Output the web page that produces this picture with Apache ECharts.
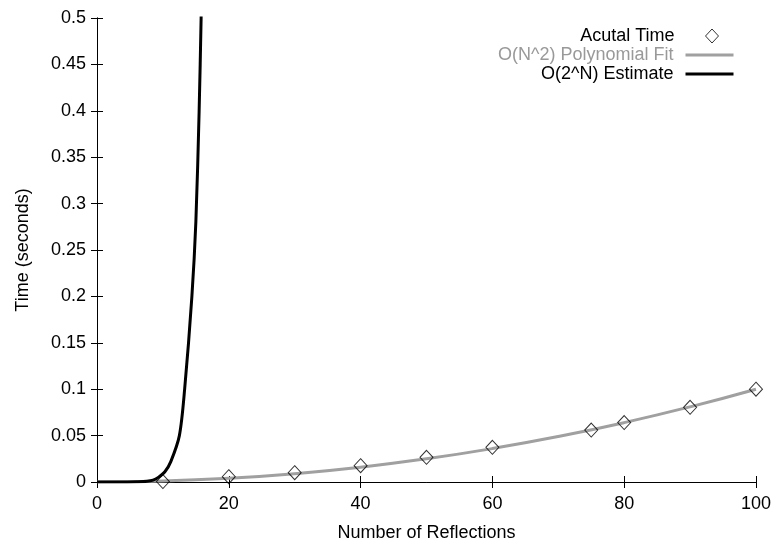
<!DOCTYPE html>
<html>
<head>
<meta charset="utf-8">
<script src="https://cdn.jsdelivr.net/npm/echarts@6/dist/echarts.min.js"></script>
<style>html,body{margin:0;padding:0;background:#fff}#c{width:774px;height:547px}</style>
</head>
<body>
<div id="c"></div>
<script>
// Measured data (Actual Time)
var actualN = [10, 20, 30, 40, 50, 60, 75, 80, 90, 100];
var actualT = [0.0005, 0.0057, 0.010, 0.0176, 0.0266, 0.0374, 0.056, 0.064, 0.0805, 0.100];
// O(N^2) polynomial fit
var fitN = [0, 10, 20, 30, 40, 50, 60, 70, 80, 90, 100];
var fitT = [0, 0.001, 0.004, 0.009, 0.016, 0.025, 0.036, 0.049, 0.064, 0.081, 0.100];
// O(2^N) estimate
var expN = [0, 4, 6, 7.6, 8.5, 9.3, 10.3, 11.2, 12.5, 13.3, 14.4, 15, 15.5, 15.8, 16];
var expT = [0, 0.0001, 0.0003, 0.0008, 0.002, 0.005, 0.011, 0.022, 0.05, 0.1, 0.2, 0.28, 0.4, 0.5, 0.58];
// tick labels
var yTicks = ['0', '0.05', '0.1', '0.15', '0.2', '0.25', '0.3', '0.35', '0.4', '0.45', '0.5'];
var xTicks = ['0', '20', '40', '60', '80', '100'];
var seriesNames = ['Acutal Time', 'O(N^2) Polynomial Fit', 'O(2^N) Estimate'];

function pairs(a, b) { return a.map(function (v, i) { return [v, b[i]]; }); }

var font = 'Liberation Sans, Arial, sans-serif';
var FS = 18;
var chart = echarts.init(document.getElementById('c'));
chart.setOption({
  animation: false,
  backgroundColor: '#fff',
  grid: { left: 97, right: 18, top: 18, bottom: 65 },
  legend: [{
    right: 50, top: 22, orient: 'vertical', align: 'right',
    itemWidth: 13, itemHeight: 14, itemGap: 1,
    textStyle: { fontFamily: font, fontSize: FS, lineHeight: 18, color: '#000', padding: [0, 26, 0, 0] },
    data: [
      { name: seriesNames[0], icon: 'diamond', itemStyle: { color: '#fff', borderColor: '#000', borderWidth: 1 } }
    ]
  }, {
    right: 34, top: 41, orient: 'vertical', align: 'right',
    itemWidth: 48, itemHeight: 14, itemGap: 1,
    textStyle: { fontFamily: font, fontSize: FS, lineHeight: 18, color: '#000', padding: [0, 7, 0, 0] },
    data: [
      { name: seriesNames[1], textStyle: { color: '#999' }, itemStyle: { opacity: 0 }, lineStyle: { width: 3, color: '#a0a0a0' } },
      { name: seriesNames[2], itemStyle: { opacity: 0 }, lineStyle: { width: 3, color: '#000' } }
    ]
  }],
  xAxis: [{
    type: 'value', min: 0, max: 100, interval: 20,
    name: 'Number of Reflections', nameLocation: 'middle', nameGap: 42,
    nameTextStyle: { fontFamily: font, fontSize: FS, color: '#000' },
    axisLine: { lineStyle: { color: '#000', width: 1 } },
    axisTick: { inside: true, length: 6, lineStyle: { color: '#000' } },
    axisLabel: { fontFamily: font, fontSize: FS, color: '#000', margin: 13,
      formatter: function (v) { return xTicks[Math.round(v / 20)]; } },
    splitLine: { show: false }
  }, {
    type: 'value', position: 'top', min: 0, max: 100, interval: 20,
    axisLine: { show: true, lineStyle: { color: '#000', width: 1 } },
    axisTick: { inside: true, length: 6, lineStyle: { color: '#000' } },
    axisLabel: { show: false }, splitLine: { show: false }
  }],
  yAxis: [{
    type: 'value', min: 0, max: 0.5, interval: 0.05,
    name: 'Time (seconds)', nameLocation: 'middle', nameGap: 65, nameRotate: 90,
    nameTextStyle: { fontFamily: font, fontSize: FS, color: '#000' },
    axisLine: { show: true, lineStyle: { color: '#000', width: 1 } },
    axisTick: { inside: true, length: 6, lineStyle: { color: '#000' } },
    axisLabel: { fontFamily: font, fontSize: FS, color: '#000', margin: 11,
      formatter: function (v) { return yTicks[Math.round(v / 0.05)]; } },
    splitLine: { show: false }
  }, {
    type: 'value', position: 'right', min: 0, max: 0.5, interval: 0.05,
    axisLine: { show: true, lineStyle: { color: '#000', width: 1 } },
    axisTick: { inside: true, length: 6, lineStyle: { color: '#000' } },
    axisLabel: { show: false }, splitLine: { show: false }
  }],
  series: [
    {
      name: seriesNames[1], type: 'line', data: pairs(fitN, fitT), smooth: true,
      showSymbol: false, symbol: 'none', clip: true, z: 2,
      lineStyle: { color: '#a0a0a0', width: 3 }, itemStyle: { color: '#a0a0a0' }
    },
    {
      name: seriesNames[0], type: 'scatter', data: pairs(actualN, actualT),
      symbol: 'diamond', symbolSize: [13, 14], z: 3,
      itemStyle: { color: 'rgba(255,255,255,0)', borderColor: '#000', borderWidth: 1 }
    },
    {
      name: seriesNames[2], type: 'line', data: pairs(expN, expT), smooth: 0.3,
      showSymbol: false, symbol: 'none', clip: true, z: 4,
      lineStyle: { color: '#000', width: 3 }, itemStyle: { color: '#000' }
    }
  ]
});
</script>
</body>
</html>
